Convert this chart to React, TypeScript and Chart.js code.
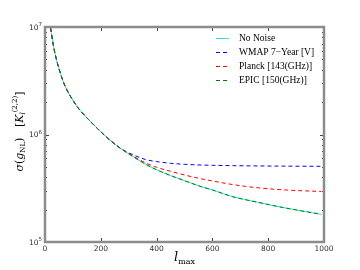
import React, { useEffect, useRef } from "react";
import { Chart, registerables } from "chart.js";

Chart.register(...registerables);

const ells = [20, 30, 40, 50, 60, 70, 80, 100, 120, 150, 200, 230, 270, 300, 330, 360, 400, 450, 500, 560, 600, 670, 760, 850, 990];
const noNoise = [9.8e6, 6.75e6, 5.1e6, 4.1e6, 3.4e6, 2.9e6, 2.55e6, 2.08e6, 1.75e6, 1.43e6, 1.06e6, 9.0e5, 7.45e5, 6.6e5, 5.9e5, 5.3e5, 4.7e5, 4.15e5, 3.72e5, 3.27e5, 3.05e5, 2.65e5, 2.35e5, 2.1e5, 1.81e5];
const wmap = [9.8e6, 6.75e6, 5.1e6, 4.1e6, 3.4e6, 2.9e6, 2.55e6, 2.08e6, 1.75e6, 1.43e6, 1.06e6, 9.0e5, 7.45e5, 6.75e5, 6.25e5, 5.85e5, 5.6e5, 5.4e5, 5.28e5, 5.2e5, 5.17e5, 5.13e5, 5.1e5, 5.08e5, 5.06e5];
const planck = [9.8e6, 6.75e6, 5.1e6, 4.1e6, 3.4e6, 2.9e6, 2.55e6, 2.08e6, 1.75e6, 1.43e6, 1.06e6, 9.0e5, 7.45e5, 6.65e5, 6.0e5, 5.45e5, 4.95e5, 4.55e5, 4.2e5, 3.87e5, 3.7e5, 3.43e5, 3.2e5, 3.06e5, 2.95e5];
const epic = [9.8e6, 6.75e6, 5.1e6, 4.1e6, 3.4e6, 2.9e6, 2.55e6, 2.08e6, 1.75e6, 1.43e6, 1.06e6, 9.0e5, 7.45e5, 6.6e5, 5.9e5, 5.3e5, 4.7e5, 4.15e5, 3.72e5, 3.27e5, 3.05e5, 2.65e5, 2.35e5, 2.1e5, 1.81e5];

const xTicks = [0, 200, 400, 600, 800, 1000];
const yExps = [5, 6, 7];
const legendLabels = ["No Noise", "WMAP 7\u2212Year [V]", "Planck [143(GHz)]", "EPIC [150(GHz)]"];

const colors = ["#33dddd", "#0000ff", "#ff0000", "#008000"];

const toPts = (ys: number[]) => ells.map((x, i) => ({ x, y: ys[i] }));

type Run = { t: string; f: string; dy?: number };

function drawRuns(ctx: CanvasRenderingContext2D, runs: Run[], cx: number, cy: number) {
  let total = 0;
  const widths = runs.map((r) => {
    ctx.font = r.f;
    const w = ctx.measureText(r.t).width;
    total += w;
    return w;
  });
  let x = cx - total / 2;
  runs.forEach((r, i) => {
    ctx.font = r.f;
    ctx.fillText(r.t, x, cy + (r.dy || 0));
    x += widths[i];
  });
}

const decor = {
  id: "decor",
  afterDatasetsDraw(chart: any) {
    const ctx: CanvasRenderingContext2D = chart.ctx;
    const a = chart.chartArea;
    const xs = chart.scales.x;
    const ys = chart.scales.y;
    ctx.save();
    // ticks
    ctx.strokeStyle = "#444";
    ctx.lineWidth = 1;
    ctx.beginPath();
    xTicks.forEach((v) => {
      const px = Math.round(xs.getPixelForValue(v)) + 0.5;
      ctx.moveTo(px, a.bottom);
      ctx.lineTo(px, a.bottom - 4);
      ctx.moveTo(px, a.top);
      ctx.lineTo(px, a.top + 4);
    });
    for (let e = 5; e <= 6; e++) {
      for (let m = 1; m <= 9; m++) {
        const py = Math.round(ys.getPixelForValue(m * Math.pow(10, e))) + 0.5;
        const len = m === 1 ? 4 : 2;
        ctx.moveTo(a.left, py);
        ctx.lineTo(a.left + len, py);
        ctx.moveTo(a.right, py);
        ctx.lineTo(a.right - len, py);
      }
    }
    ctx.stroke();
    // frame
    ctx.strokeStyle = "#8c8c8c";
    ctx.lineWidth = 2.5;
    ctx.strokeRect(a.left, a.top, a.right - a.left, a.bottom - a.top);
    // tick labels
    ctx.fillStyle = "#333";
    ctx.textBaseline = "middle";
    ctx.textAlign = "left";
    xTicks.forEach((v) => {
      const px = xs.getPixelForValue(v);
      drawRuns(ctx, [{ t: String(v), f: "7.5px 'DejaVu Sans'" }], px, a.bottom + 7);
    });
    yExps.forEach((e) => {
      const py = ys.getPixelForValue(Math.pow(10, e));
      ctx.font = "7.5px 'DejaVu Sans'";
      const w1 = ctx.measureText("10").width;
      ctx.font = "5.5px 'DejaVu Sans'";
      const w2 = ctx.measureText(String(e)).width;
      const x0 = a.left - 3 - w1 - w2;
      ctx.font = "7.5px 'DejaVu Sans'";
      ctx.fillText("10", x0, py + 1);
      ctx.font = "5.5px 'DejaVu Sans'";
      ctx.fillText(String(e), x0 + w1, py - 2);
    });
    // x title
    ctx.fillStyle = "#000";
    drawRuns(
      ctx,
      [
        { t: "l", f: "italic 13px 'DejaVu Serif'" },
        { t: "max", f: "8px 'DejaVu Serif'", dy: 4 },
      ],
      (a.left + a.right) / 2,
      a.bottom + 16
    );
    // y title
    ctx.save();
    ctx.translate(20, (a.top + a.bottom) / 2 - 3);
    ctx.rotate(-Math.PI / 2);
    drawRuns(
      ctx,
      [
        { t: "\u03c3", f: "italic 11px 'DejaVu Serif'" },
        { t: "(", f: "11px 'DejaVu Serif'" },
        { t: "g", f: "italic 11px 'DejaVu Serif'" },
        { t: "NL", f: "7px 'DejaVu Serif'", dy: 3 },
        { t: ")", f: "11px 'DejaVu Serif'" },
        { t: "   [", f: "11px 'DejaVu Serif'" },
        { t: "K", f: "italic 11px 'DejaVu Serif'" },
        { t: "l", f: "italic 7px 'DejaVu Serif'", dy: 3 },
        { t: "(2,2)", f: "7px 'DejaVu Serif'", dy: -5 },
        { t: "]", f: "11px 'DejaVu Serif'" },
      ],
      0,
      0
    );
    ctx.restore();
    // legend
    const lx0 = 216;
    const lx1 = 229;
    const tx = 239;
    const ly = [38.5, 52.5, 66.5, 80.5];
    legendLabels.forEach((lab, i) => {
      ctx.strokeStyle = colors[i];
      ctx.lineWidth = 1;
      ctx.setLineDash(i === 0 ? [] : [4, 3]);
      ctx.beginPath();
      ctx.moveTo(lx0, ly[i]);
      ctx.lineTo(lx1, ly[i]);
      ctx.stroke();
      ctx.setLineDash([]);
      ctx.fillStyle = "#000";
      ctx.font = "9.5px 'Liberation Serif'";
      ctx.textAlign = "left";
      ctx.fillText(lab, tx, ly[i]);
    });
    ctx.restore();
  },
};

export default function App() {
  const ref = useRef<HTMLCanvasElement>(null);
  useEffect(() => {
    document.body.style.margin = "0";
    const ds = (label: string, data: number[], i: number, dashed: boolean, order: number) => ({
      label,
      data: toPts(data),
      borderColor: colors[i],
      borderWidth: 1,
      borderDash: dashed ? [4, 3] : [],
      pointRadius: 0,
      cubicInterpolationMode: "monotone" as const,
      fill: false,
      order,
    });
    const chart = new Chart(ref.current!, {
      type: "line",
      data: {
        datasets: [
          ds(legendLabels[0], noNoise, 0, false, 4),
          ds(legendLabels[1], wmap, 1, true, 3),
          ds(legendLabels[2], planck, 2, true, 2),
          ds(legendLabels[3], epic, 3, true, 1),
        ],
      },
      options: {
        animation: false,
        responsive: false,
        maintainAspectRatio: false,
        layout: { padding: { left: 45, right: 36, top: 27, bottom: 28 } },
        plugins: { legend: { display: false }, tooltip: { enabled: false } },
        scales: {
          x: {
            type: "linear",
            min: 0,
            max: 1000,
            display: false,
          },
          y: {
            type: "logarithmic",
            min: 1e5,
            max: 1e7,
            display: false,
          },
        },
      },
      plugins: [decor],
    });
    return () => chart.destroy();
  }, []);
  return (
    <div style={{ width: 360, height: 270, background: "#fff" }}>
      <canvas ref={ref} width={360} height={270} style={{ display: "block" }} />
    </div>
  );
}
